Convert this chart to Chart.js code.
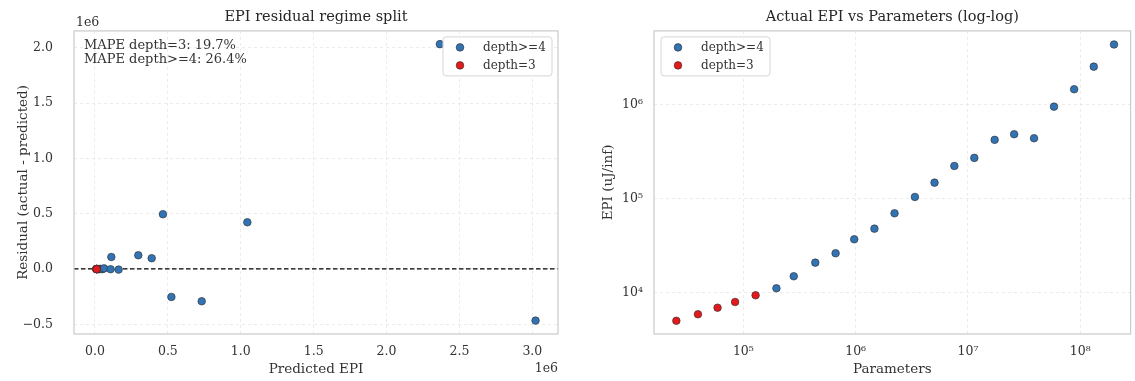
<!DOCTYPE html>
<html>
<head>
<meta charset="utf-8">
<script src="https://cdn.jsdelivr.net/npm/chart.js@4.4.1/dist/chart.umd.min.js"></script>
<style>
    body { margin: 0; background: #fff; width: 1135px; height: 381px; overflow: hidden; position: relative; }
    canvas { position: absolute; top: 0; }
    #residualChart { left: 0; }
    #loglogChart { left: 575px; }
</style>
</head>
<body>
<canvas id="residualChart" width="570" height="381"></canvas>
<canvas id="loglogChart" width="560" height="381"></canvas>
<script>
// residual plot (predicted EPI vs residual)
const residBlueX = [2366000, 466000, 1045000, 112000, 297000, 389000, 524000, 732000, 3022000, 12500, 16000, 22000, 28000, 36000, 50000, 62000, 107000, 162000];
const residBlueY = [2032000, 495000, 422000, 108000, 124000, 97000, -253000, -292000, -467000, -1400, -1000, -1100, -1700, 1100, -1900, 5000, -2300, -6000];
const residRedX = [8500, 9300, 10200, 11000, 12000];
const residRedY = [-600, -600, -500, -300, -1600];
const residXTicks = [0, 500000, 1000000, 1500000, 2000000, 2500000, 3000000];
const residYTicks = [-500000, 0, 500000, 1000000, 1500000, 2000000];
const mapeLines = ['MAPE depth=3: 19.7%', 'MAPE depth>=4: 26.4%'];

// log-log plot (parameters vs actual EPI)
const paramsBlue = [197000, 281000, 437000, 663000, 971000, 1470000, 2220000, 3370000, 5040000, 7570000, 11400000, 17300000, 25800000, 38800000, 58400000, 88300000, 132000000, 200000000];
const epiBlue = [11140, 14960, 20900, 26300, 37100, 48100, 70100, 104700, 148700, 224000, 273000, 425000, 488000, 442000, 959000, 1470000, 2560000, 4410000];
const paramsRed = [25300, 39400, 58900, 84400, 128500];
const epiRed = [5020, 5890, 6920, 7960, 9380];
const logXTicks = [1e5, 1e6, 1e7, 1e8];
const logYTicks = [1e4, 1e5, 1e6];

const seriesNames = ['depth>=4', 'depth=3'];
const FONT = "'DejaVu Serif', serif";
const TEXT = '#333333';
const BLUE = '#3274b3';
const RED = '#e31a1c';
const EDGE = '#2a2a2a';
const GRID = '#e6e6e6';

Chart.defaults.font.family = FONT;
Chart.defaults.color = TEXT;

function pts(xs, ys) {
    return xs.map((x, i) => ({ x: x, y: ys[i] }));
}

function supPow(v) {
    const sup = { '0': '\u2070', '1': '\u00b9', '2': '\u00b2', '3': '\u00b3', '4': '\u2074', '5': '\u2075', '6': '\u2076', '7': '\u2077', '8': '\u2078', '9': '\u2079' };
    const e = String(Math.round(Math.log10(v)));
    return '10' + e.split('').map(c => sup[c]).join('');
}

function scatterSet(label, data, color, order) {
    return {
        label: label,
        data: data,
        order: order,
        backgroundColor: color,
        borderColor: EDGE,
        borderWidth: 0.6,
        pointRadius: 3.8,
        pointHoverRadius: 3.8
    };
}

// frame + legend drawn on top, matplotlib style
function framePlugin(legendX) {
    return {
        id: 'frame',
        afterDraw(chart) {
            const ctx = chart.ctx;
            const a = chart.chartArea;
            ctx.save();
            ctx.strokeStyle = '#cccccc';
            ctx.lineWidth = 1.25;
            ctx.strokeRect(a.left, a.top, a.right - a.left, a.bottom - a.top);

            // legend
            const x0 = legendX(a), y0 = a.top + 6, w = 109, h = 39;
            ctx.beginPath();
            ctx.roundRect(x0, y0, w, h, 3);
            ctx.fillStyle = 'rgba(255,255,255,0.85)';
            ctx.fill();
            ctx.strokeStyle = '#d6d6d6';
            ctx.lineWidth = 1;
            ctx.stroke();
            const colors = [BLUE, RED];
            ctx.font = '12px ' + FONT;
            ctx.textBaseline = 'middle';
            ctx.textAlign = 'left';
            seriesNames.forEach((name, i) => {
                const cy = y0 + 10.5 + i * 18;
                ctx.beginPath();
                ctx.arc(x0 + 17, cy, 3.8, 0, Math.PI * 2);
                ctx.fillStyle = colors[i];
                ctx.fill();
                ctx.lineWidth = 0.6;
                ctx.strokeStyle = EDGE;
                ctx.stroke();
                ctx.fillStyle = TEXT;
                ctx.fillText(name, x0 + 40, cy);
            });
            ctx.restore();
        }
    };
}

const residExtras = {
    id: 'residExtras',
    beforeDatasetsDraw(chart) {
        const ctx = chart.ctx;
        const a = chart.chartArea;
        const y0 = chart.scales.y.getPixelForValue(0);
        ctx.save();
        ctx.strokeStyle = '#000';
        ctx.lineWidth = 1.2;
        ctx.setLineDash([4.5, 2.5]);
        ctx.beginPath();
        ctx.moveTo(a.left, y0);
        ctx.lineTo(a.right, y0);
        ctx.stroke();
        ctx.restore();
    },
    afterDraw(chart) {
        const ctx = chart.ctx;
        const a = chart.chartArea;
        ctx.save();
        ctx.fillStyle = TEXT;
        ctx.textBaseline = 'middle';
        ctx.font = '13px ' + FONT;
        ctx.textAlign = 'left';
        mapeLines.forEach((t, i) => ctx.fillText(t, a.left + 10, a.top + 14.5 + i * 14));
        ctx.font = '12.5px ' + FONT;
        ctx.fillText('1e6', a.left + 2, a.top - 8);
        ctx.textAlign = 'right';
        ctx.fillText('1e6', a.right, 369);
        ctx.restore();
    }
};

function fixTicks(values) {
    return function(scale) {
        scale.ticks = values.map(v => ({ value: v }));
    };
}

function axisTitle(text, pad) {
    return { display: true, text: text, font: { size: 13.5 }, color: TEXT, padding: pad };
}

const titleOpts = text => ({
    display: true,
    fullSize: false,
    text: text,
    font: { size: 14.5, weight: 'normal' },
    color: '#262626',
    padding: { top: 9, bottom: 4.5 }
});

const tickFont = { size: 12.5 };

new Chart(document.getElementById('residualChart'), {
    type: 'scatter',
    data: {
        datasets: [
            scatterSet(seriesNames[0], pts(residBlueX, residBlueY), BLUE, 1),
            scatterSet(seriesNames[1], pts(residRedX, residRedY), RED, 0)
        ]
    },
    options: {
        responsive: false,
        animation: false,
        layout: { padding: { right: 12, left: 0, top: 0, bottom: 0 } },
        plugins: {
            legend: { display: false },
            tooltip: { enabled: false },
            title: titleOpts('EPI residual regime split')
        },
        scales: {
            x: {
                type: 'linear',
                min: -144000,
                max: 3176000,
                afterBuildTicks: fixTicks(residXTicks),
                afterFit: s => { s.height = 47; },
                grid: { color: GRID, drawTicks: false, lineWidth: 0.8 },
                border: { display: false, dash: [3, 3] },
                ticks: { padding: 10.5, font: tickFont, color: TEXT, callback: v => (v / 1e6).toFixed(1) },
                title: axisTitle('Predicted EPI', { top: 0, bottom: 3 })
            },
            y: {
                type: 'linear',
                min: -588000,
                max: 2152000,
                afterBuildTicks: fixTicks(residYTicks),
                afterFit: s => { s.width = 74; },
                grid: { color: GRID, drawTicks: false, lineWidth: 0.8 },
                border: { display: false, dash: [3, 3] },
                ticks: { padding: 21, font: tickFont, color: TEXT, callback: v => (v < 0 ? '\u2212' : '') + Math.abs(v / 1e6).toFixed(1) },
                title: axisTitle('Residual (actual - predicted)', { top: 15, bottom: 0 })
            }
        }
    },
    plugins: [residExtras, framePlugin(a => a.right - 115)]
});

new Chart(document.getElementById('loglogChart'), {
    type: 'scatter',
    data: {
        datasets: [
            scatterSet(seriesNames[0], pts(paramsBlue, epiBlue), BLUE, 1),
            scatterSet(seriesNames[1], pts(paramsRed, epiRed), RED, 0)
        ]
    },
    options: {
        responsive: false,
        animation: false,
        layout: { padding: { right: 1, left: 0, top: 0, bottom: 0 } },
        plugins: {
            legend: { display: false },
            tooltip: { enabled: false },
            title: titleOpts('Actual EPI vs Parameters (log-log)')
        },
        scales: {
            x: {
                type: 'logarithmic',
                min: 16000,
                max: 281000000,
                afterBuildTicks: fixTicks(logXTicks),
                afterFit: s => { s.height = 47; },
                grid: { color: GRID, drawTicks: false, lineWidth: 0.8 },
                border: { display: false, dash: [3, 3] },
                ticks: { padding: 10.5, font: tickFont, color: TEXT, callback: v => supPow(v) },
                title: axisTitle('Parameters', { top: 0, bottom: 3 })
            },
            y: {
                type: 'logarithmic',
                min: 3630,
                max: 6150000,
                afterBuildTicks: fixTicks(logYTicks),
                afterFit: s => { s.width = 79; },
                grid: { color: GRID, drawTicks: false, lineWidth: 0.8 },
                border: { display: false, dash: [3, 3] },
                ticks: { padding: 11, font: tickFont, color: TEXT, callback: v => supPow(v) },
                title: axisTitle('EPI (uJ/inf)', { top: 25, bottom: 0 })
            }
        }
    },
    plugins: [framePlugin(a => a.left + 7)]
});
</script>
</body>
</html>
